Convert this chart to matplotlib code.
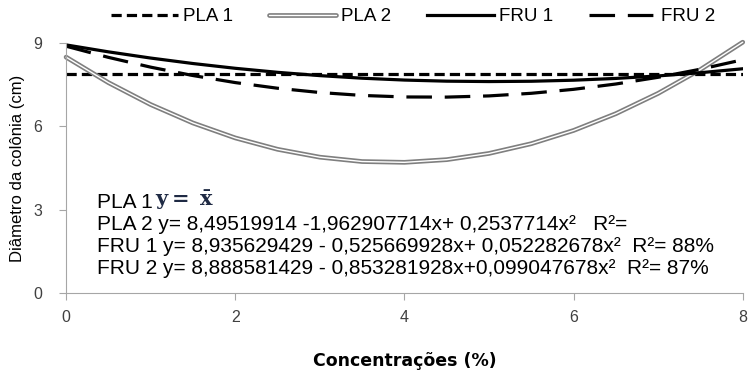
import numpy as np
import matplotlib
matplotlib.use("Agg")
from matplotlib import pyplot as plt
import matplotlib.patheffects as pe

# concentrações (%)
conc = [0, 0.5, 1, 1.5, 2, 2.5, 3, 3.5, 4, 4.5, 5, 5.5, 6, 6.5, 7, 7.5, 8]

# diâmetro da colônia (cm)
pla1 = [7.9] * len(conc)
pla2 = [8.495, 7.577, 6.786, 6.122, 5.584, 5.174, 4.890, 4.733, 4.704,
        4.801, 5.025, 5.376, 5.853, 6.458, 7.190, 8.048, 9.033]
fru1 = [8.936, 8.686, 8.462, 8.265, 8.093, 7.948, 7.829, 7.736, 7.669,
        7.629, 7.615, 7.626, 7.664, 7.728, 7.818, 7.934, 8.076]
fru2 = [8.889, 8.487, 8.134, 7.832, 7.578, 7.374, 7.220, 7.115, 7.060,
        7.055, 7.098, 7.192, 7.335, 7.527, 7.769, 8.060, 8.401]

eq_lines = [
    "PLA 2 y= 8,49519914 -1,962907714x+ 0,2537714x²   R²=",
    "FRU 1 y= 8,935629429 - 0,525669928x+ 0,052282678x²  R²= 88%",
    "FRU 2 y= 8,888581429 - 0,853281928x+0,099047678x²  R²= 87%",
]

plt.rcParams['font.family'] = ['Liberation Sans', 'DejaVu Sans']

fig = plt.figure(figsize=(7.51, 3.75), dpi=100)
ax = fig.add_axes([0.088, 0.219, 0.901, 0.666])

ax.plot(conc, pla1, color='black', lw=2.3, dashes=(3.2, 1.6), label='PLA 1')
ax.plot(conc, pla2, color='white', lw=1.0, label='PLA 2', clip_on=False,
        solid_joinstyle='round', solid_capstyle='round',
        path_effects=[pe.Stroke(linewidth=3.4, foreground='#7f7f7f',
                                joinstyle='round', capstyle='round'),
                      pe.Normal()])
ax.plot(conc, fru1, color='black', lw=2.3, label='FRU 1')
ax.plot(conc, fru2, color='black', lw=2.3, dashes=(8, 4), label='FRU 2')

ax.set_xlim(0, 8)
ax.set_ylim(0, 9)
ax.set_xticks([0, 2, 4, 6, 8])
ax.set_yticks([0, 3, 6, 9])
for s in ['top', 'right']:
    ax.spines[s].set_visible(False)
for s in ['left', 'bottom']:
    ax.spines[s].set_color('#a6a6a6')
ax.tick_params(colors='#a6a6a6', labelcolor='#404040', labelsize=11.5, length=5)
ax.tick_params(axis='x', pad=7)
ax.tick_params(axis='y', pad=12)

ax.set_xlabel('Concentrações (%)', family='DejaVu Sans', fontweight='bold',
              fontsize=12.5)
ax.xaxis.set_label_coords(0.5, -0.236)
ax.set_ylabel('Diâmetro da colônia (cm)', fontsize=12)
ax.yaxis.set_label_coords(-0.06, 0.5)

fig.legend(loc='center', bbox_to_anchor=(0.55, 0.955), ncol=4, frameon=False,
           fontsize=13.5, handlelength=3.6, handletextpad=0.25, columnspacing=1.9)

# equações
fig.text(0.129, 0.461, 'PLA 1', fontsize=15, va='center')
fig.text(0.206, 0.466, r'$\mathbf{y =\ \bar{x}}$', fontsize=15, va='center',
         color='#1f2a44', math_fontfamily='dejavuserif')
for i, line in enumerate(eq_lines):
    fig.text(0.129, 0.400 - i * 0.058, line, fontsize=15, va='center')

fig.savefig('out.png', dpi=100)
